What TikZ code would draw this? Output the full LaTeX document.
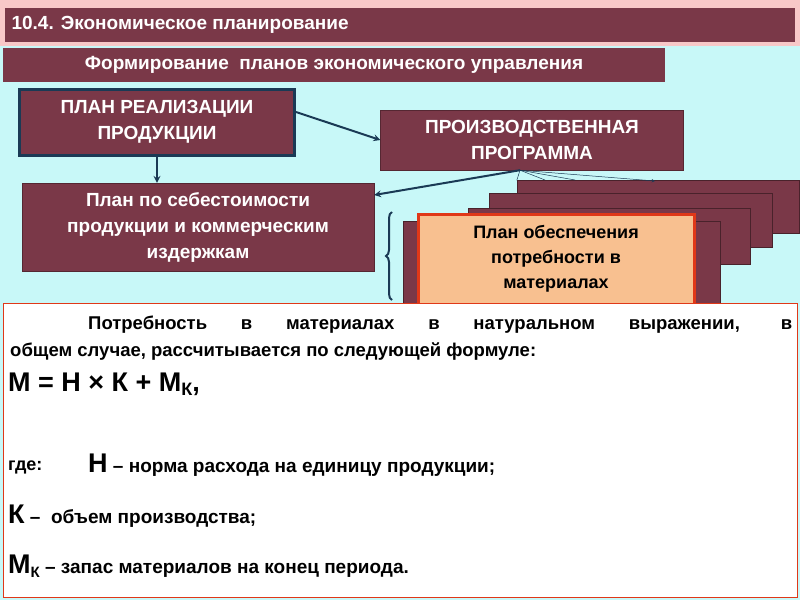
\documentclass[tikz,border=0pt]{standalone}
\usepackage{fontspec}
\setmainfont{Liberation Sans}
\usetikzlibrary{positioning,decorations.pathreplacing}
\definecolor{maroon}{HTML}{7A3848}
\definecolor{sky}{HTML}{C8F8F8}
\definecolor{navy}{HTML}{1A3A55}
\definecolor{peach}{HTML}{F8C090}
\definecolor{redline}{HTML}{E03818}
\definecolor{pinkrim}{HTML}{F8C8C8}
\tikzset{
  planbox/.style={draw=maroon!70!black, fill=maroon, text=white, font=\bfseries\fontsize{19}{26}\selectfont, align=center, inner sep=0pt},
  stackbox/.style={draw=maroon!60!black, fill=maroon},
  flow/.style={->, >=stealth, navy, line width=2pt},
  fan/.style={navy, line width=0.5pt},
  formtext/.style={anchor=west, inner sep=0pt, font=\bfseries\fontsize{19}{23}\selectfont}
}
\begin{document}
\begin{tikzpicture}[x=1pt, y=-1pt]
\useasboundingbox (0,0) rectangle (800,600);
\fill [sky] (0,0) rectangle (800,600);
\fill [pinkrim] (0,0) rectangle (800,46);

% headers
\node [fill=maroon, minimum width=790pt, minimum height=34pt, inner sep=0pt] (title) at (400,25) {};
\node [anchor=west, text=white, font=\bfseries\fontsize{19}{22}\selectfont] (titletext) at (8,25) {10.4. Экономическое планирование};
\node [fill=maroon, minimum width=662pt, minimum height=34pt, inner sep=0pt] (subtitle) at (334,65) {};
\node [text=white, font=\bfseries\fontsize{19}{22}\selectfont] (subtitletext) at (334,65) {Формирование\ \ планов экономического управления};

% plans
\node [planbox, draw=navy, line width=3pt, minimum width=275pt, minimum height=66pt] (sales) at (157,122) {ПЛАН РЕАЛИЗАЦИИ\\ПРОДУКЦИИ};
\node [planbox, minimum width=303pt, minimum height=60pt] (program) at (532,140) {ПРОИЗВОДСТВЕННАЯ\\ПРОГРАММА};
\node [planbox, minimum width=352pt, minimum height=88pt] (cost) at (198,227) {План по себестоимости\\продукции и коммерческим\\издержкам};

% stacked plans
\node [stackbox, minimum width=282pt, minimum height=53pt] (stackA) at (658,207) {};
\node [stackbox, minimum width=283pt, minimum height=54pt] (stackB) at (631,220) {};
\node [stackbox, minimum width=282pt, minimum height=56pt] (stackC) at (609,236) {};
\node [stackbox, minimum width=317pt, minimum height=82pt] (stackD) at (562,262) {};
\node [draw=redline, line width=3pt, fill=peach, minimum width=276pt, minimum height=90pt, align=center, font=\bfseries\fontsize{18}{25}\selectfont] (materials) at (556,259) {План обеспечения\\потребности в\\материалах};

\draw [flow] (sales.east |- 0,112) -- (program.west);
\draw [flow] (sales.south) -- (cost.north -| sales.south);
\draw [flow] (program.south -| 520,0) -- (cost.east |- 0,195);
\coordinate (fanstart) at (program.south -| 520,0);
\draw [fan] (fanstart) -- (stackA.north west);
\draw [fan] (fanstart) -- (545,180);
\draw [fan] (fanstart) -- (575,180);
\draw [fan, ->, >=stealth] (fanstart) -- (655,181);
\draw [navy, line width=2pt, decorate, decoration={brace, amplitude=6pt, mirror}] (392,212) -- (392,300);

% formula panel
\node [draw=redline, line width=1pt, fill=white, minimum width=794pt, minimum height=294pt, inner sep=0pt] (panel) at (400,450) {};
\node [anchor=north west, inner sep=0pt, text width=782pt, align=justify, font=\bfseries\fontsize{18.5}{27}\selectfont] (intro) at (10,316) {\hspace*{78pt}Потребность в материалах в натуральном выражении, в\linebreak общем случае, рассчитывается по следующей формуле:};
\node [formtext, font=\bfseries\fontsize{27}{30}\selectfont] (formula) at (8,384) {М = Н × К + М\raisebox{-4pt}{\fontsize{18}{18}\selectfont К},};
\node [formtext, font=\bfseries\fontsize{18}{20}\selectfont] (where) at (8,467) {где:};
\node [formtext] (norm) at (88,465) {{\fontsize{27}{30}\selectfont Н} – норма расхода на единицу продукции;};
\node [formtext] (volume) at (8,516) {{\fontsize{27}{30}\selectfont К} –\ \ объем производства;};
\node [formtext] (stock) at (8,566) {{\fontsize{27}{30}\selectfont М}\raisebox{-4pt}{\fontsize{15}{15}\selectfont К} – запас материалов на конец периода.};
\end{tikzpicture}
\end{document}
